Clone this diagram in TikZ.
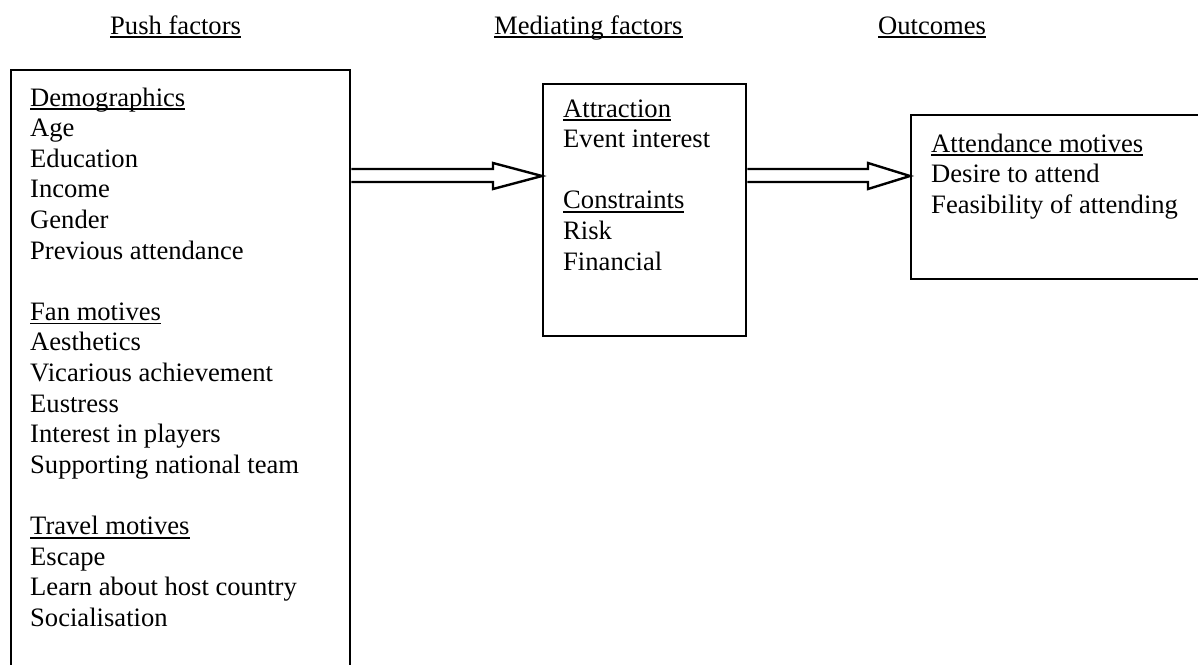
\documentclass[tikz,border=0pt]{standalone}
\usepackage{fontspec}
\setmainfont{Liberation Serif}
\newsavebox{\ulbox}
\newcommand{\myul}[1]{\sbox{\ulbox}{#1}\rlap{\rule[-4.2pt]{\wd\ulbox}{1.8pt}}\usebox{\ulbox}}
\begin{document}
\begin{tikzpicture}[x=1pt,y=-1pt,
  txt/.style={anchor=base west, inner sep=0pt, font=\fontsize{26.6}{30.6}\selectfont},
  box/.style={draw, line width=2.4pt, inner sep=0pt, anchor=north west},
  blockarrow/.style={draw, line width=2.4pt, line join=miter}]
\useasboundingbox (0,0) rectangle (1198,664);
% boxes
\node[box, minimum width=339pt, minimum height=620pt] (push) at (10,69) {};
\node[box, minimum width=203pt, minimum height=252pt] (med) at (542,83) {};
\node[box, minimum width=300pt, minimum height=164pt] (out) at (910,114) {};
% headings
\node[txt] (h1) at (110,34) {\myul{Push factors}};
\node[txt] (h2) at (494,34) {\myul{Mediating factors}};
\node[txt] (h3) at (878,34) {\myul{Outcomes}};
% texts
\node[txt] (t1) at (30,106) {\begin{tabular}[t]{@{}l@{}}
\myul{Demographics}\\ Age\\ Education\\ Income\\ Gender\\ Previous attendance\\ \\
\myul{Fan motives}\\ Aesthetics\\ Vicarious achievement\\ Eustress\\ Interest in players\\ Supporting national team\\ \\
\myul{Travel motives}\\ Escape\\ Learn about host country\\ Socialisation
\end{tabular}};
\node[txt] (t2) at (563,117) {\begin{tabular}[t]{@{}l@{}}
\myul{Attraction}\\ Event interest\\ \\
\myul{Constraints}\\ Risk\\ Financial
\end{tabular}};
\node[txt] (t3) at (931,152) {\begin{tabular}[t]{@{}l@{}}
\myul{Attendance motives}\\ Desire to attend\\ Feasibility of attending
\end{tabular}};
% block arrows
\draw[blockarrow] (push.east |- 0,169) -- (493,169) -- (493,163) -- (med.west |- 0,176)
  -- (493,189) -- (493,182) -- (push.east |- 0,182);
\draw[blockarrow] (med.east |- 0,169) -- (868,169) -- (868,163) -- (out.west |- 0,176)
  -- (868,189) -- (868,182) -- (med.east |- 0,182);
\end{tikzpicture}
\end{document}
